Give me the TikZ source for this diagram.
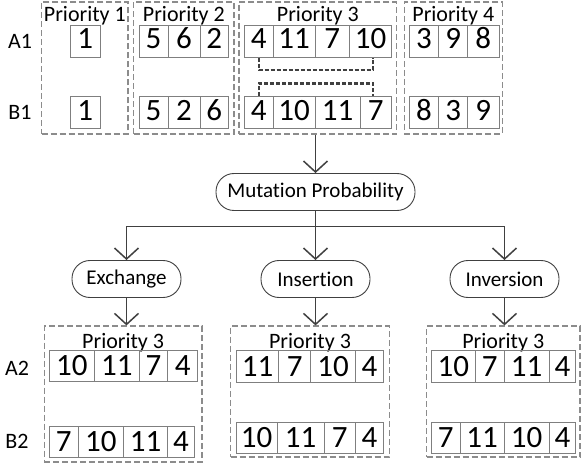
\documentclass[tikz,border=0pt]{standalone}
\usepackage{fontspec}
\setmainfont{Carlito}[Ligatures=NoCommon]
\usetikzlibrary{arrows.meta}

\definecolor{cellgray}{HTML}{7F7F7F}
\definecolor{boxgray}{HTML}{8C8C8C}
\definecolor{linegray}{HTML}{404040}

\tikzset{
  cell/.style={draw=cellgray, line width=0.9pt, inner sep=0pt,
    font=\fontsize{31}{31}\selectfont, text height=19.6pt, text depth=0pt},
  cellhi/.style={cell, text depth=4pt},
  group/.style={draw=boxgray, line width=1.2pt, dash pattern=on 6pt off 3pt, inner sep=0pt},
  lbl/.style={font=\fontsize{22}{22}\selectfont, inner sep=0pt},
  op/.style={draw=linegray, line width=0.9pt, rounded corners=18pt,
    minimum width=109pt, minimum height=37pt, inner sep=0pt,
    font=\fontsize{21}{21}\selectfont},
  flow/.style={draw=linegray, line width=1.5pt, -{Straight Barb[length=11pt,width=24pt]}},
  swapline/.style={draw=linegray, line width=2.6pt, dash pattern=on 4pt off 2pt}
}

% a row of boxed genes: name, style, top, bottom, {x0/x1/label,...}
\newcommand\cellrow[5]{%
  \foreach \xa/\xb/\lab [count=\i] in {#5}{%
    \pgfmathsetmacro\cw{\xb-\xa}%
    \pgfmathsetmacro\ch{#4-#3}%
    \pgfmathsetmacro\cx{(\xa+\xb)/2}%
    \pgfmathsetmacro\cy{(#3+#4)/2}%
    \node[#2, minimum width=\cw pt, minimum height=\ch pt] (#1-\i) at (\cx,\cy) {\lab};
  }}

% dashed group frame: name, x0, y0, x1, y1
\newcommand\gbox[5]{%
  \pgfmathsetmacro\gw{#4-#2}%
  \pgfmathsetmacro\gh{#5-#3}%
  \pgfmathsetmacro\gx{(#2+#4)/2}%
  \pgfmathsetmacro\gy{(#3+#5)/2}%
  \node[group, minimum width=\gw pt, minimum height=\gh pt] (#1) at (\gx,\gy) {};
}

\begin{document}
\begin{tikzpicture}[x=1pt, y=-1pt]
\useasboundingbox (0,0) rectangle (581,465);

% ---- parent chromosomes, split by priority
\gbox{tg1}{41.7}{2}{128}{134}
\gbox{tg2}{133.7}{2}{234}{134}
\gbox{tg3}{239}{2}{396.7}{134}
\gbox{tg4}{404.3}{2}{502.3}{134}

\node[lbl, anchor=base] (tp1) at (tg1.north |- 0,21.5) {Priority 1};
\node[lbl, anchor=base] (tp2) at (tg2.north |- 0,21.5) {Priority 2};
\node[lbl, anchor=base] (tp3) at (tg3.north |- 0,21.5) {Priority 3};
\node[lbl, anchor=base] (tp4) at (tg4.north |- 0,21.5) {Priority 4};

\node[lbl] (la1) at (20,41.3) {A1};
\node[lbl] (lb1) at (20,112.2) {B1};

\cellrow{t1a}{cellhi}{25}{57.3}{70.7/100/1}
\cellrow{t1b}{cellhi}{96.7}{128.3}{70.7/100/1}
\cellrow{t2a}{cellhi}{25}{57.3}{139/168/5,168/200/6,200/228.3/2}
\cellrow{t2b}{cellhi}{96.7}{128.3}{139/168/5,168/200/2,200/228.3/6}
\cellrow{t3a}{cellhi}{25}{57.3}{244.3/273.3/4,273.3/315/11,315/349.3/7,349.3/391.7/10}
\cellrow{t3b}{cellhi}{96.7}{128.3}{244.3/273.3/4,273.3/315/10,315/360/11,360/391.7/7}
\cellrow{t4a}{cellhi}{25}{57.3}{409.3/438.7/3,438.7/467.7/9,467.7/499/8}
\cellrow{t4b}{cellhi}{96.7}{128.3}{409.3/438.7/8,438.7/467.7/3,467.7/499/9}

% swapped genes in priority 3
\coordinate (sw1) at (373,70);
\coordinate (sw2) at (373,83.3);
\draw[swapline] (t3a-1.south) |- (sw1) -- (sw1 |- t3a-4.south);
\draw[swapline] (t3b-1.north) |- (sw2) -- (sw2 |- t3b-4.north);

% ---- mutation operators
\node[op, minimum width=199pt] (mut) at (315.5,192) {Mutation Probability};
\node[op] (exc) at (126.5,279) {Exchange};
\node[op] (ins) at (315.5,279) {Insertion};
\node[op] (inv) at (504.5,279) {Inversion};
\coordinate (split) at (315.5,226.7);

\draw[flow] (mut.north |- tg3.south) -- (mut.north);
\draw[flow] (mut.south) |- (exc.north |- split) -- (exc.north);
\draw[flow] (mut.south) -- (ins.north);
\draw[flow] (mut.south) |- (inv.north |- split) -- (inv.north);

% ---- offspring
\gbox{bg1}{44.3}{326}{202}{462}
\gbox{bg2}{230.7}{326}{389.3}{457}
\gbox{bg3}{426.5}{326}{580}{457}

\draw[flow] (exc.south) -- (exc.south |- bg1.north);
\draw[flow] (ins.south) -- (ins.south |- bg2.north);
\draw[flow] (inv.south) -- (inv.south |- bg3.north);

\node[lbl, anchor=base] (bp1) at (bg1.north |- 0,348) {Priority 3};
\node[lbl, anchor=base] (bp2) at (bg2.north |- 0,348) {Priority 3};
\node[lbl, anchor=base] (bp3) at (bg3.north |- 0,348) {Priority 3};

\node[lbl] (la2) at (17,368) {A2};
\node[lbl] (lb2) at (17,441) {B2};

\cellrow{b1a}{cell}{350}{381.7}{49.3/94.3/10,94.3/139.3/11,139.3/167.7/7,167.7/197.7/4}
\cellrow{b1b}{cell}{426}{457}{49.3/78.3/7,78.3/123.3/10,123.3/167.7/11,167.7/194.3/4}
\cellrow{b2a}{cell}{350.5}{382}{236.3/278.7/11,278.7/310.7/7,310.7/355.3/10,355.3/383.7/4}
\cellrow{b2b}{cell}{422}{453}{236.3/277/10,277/324/11,324/355.3/7,355.3/383.7/4}
\cellrow{b3a}{cell}{350.5}{382}{431.7/475/10,475/504.3/7,504.3/549/11,549/575.7/4}
\cellrow{b3b}{cell}{422}{453}{431.7/460/7,460/504.3/11,504.3/549/10,549/575.7/4}
\end{tikzpicture}
\end{document}
